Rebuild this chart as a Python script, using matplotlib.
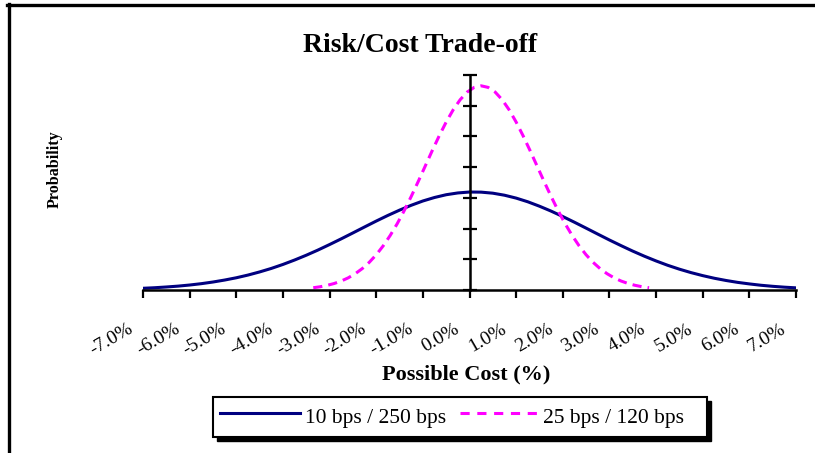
import numpy as np
import matplotlib.pyplot as plt
from matplotlib.lines import Line2D
from matplotlib.patches import Rectangle
import matplotlib.transforms as mtransforms

plt.rcParams['font.family'] = ['Liberation Serif', 'DejaVu Serif']

# possible cost (%) and probability density
cost_a = np.arange(-7.0, 7.01, 0.25)
prob_a = [0.0028, 0.0037, 0.0049, 0.0063, 0.0081, 0.0103, 0.0130, 0.0162,
          0.0199, 0.0243, 0.0294, 0.0351, 0.0416, 0.0488, 0.0566, 0.0650,
          0.0740, 0.0833, 0.0929, 0.1026, 0.1122, 0.1214, 0.1300, 0.1379,
          0.1449, 0.1506, 0.1551, 0.1580, 0.1595, 0.1593, 0.1576, 0.1543,
          0.1496, 0.1436, 0.1364, 0.1284, 0.1196, 0.1103, 0.1007, 0.0910,
          0.0814, 0.0722, 0.0633, 0.0550, 0.0473, 0.0402, 0.0339, 0.0283,
          0.0234, 0.0191, 0.0155, 0.0124, 0.0099, 0.0077, 0.0060, 0.0046,
          0.0035]

cost_b = np.arange(-3.35, 3.86, 0.15)
prob_b = [0.0037, 0.0053, 0.0076, 0.0106, 0.0146, 0.0198, 0.0265, 0.0348,
          0.0450, 0.0573, 0.0719, 0.0888, 0.1079, 0.1292, 0.1522, 0.1765,
          0.2016, 0.2267, 0.2509, 0.2734, 0.2933, 0.3098, 0.3222, 0.3298,
          0.3324, 0.3298, 0.3222, 0.3098, 0.2933, 0.2734, 0.2509, 0.2267,
          0.2016, 0.1765, 0.1522, 0.1292, 0.1079, 0.0888, 0.0719, 0.0573,
          0.0450, 0.0348, 0.0265, 0.0198, 0.0146, 0.0106, 0.0076, 0.0053,
          0.0037]

labels = ['10 bps / 250 bps', '25 bps / 120 bps']
xticks = np.arange(-7, 8, 1)
xticklabels = ['%.1f%%' % t for t in xticks]

W, H = 815, 453
fig = plt.figure(figsize=(W / 100, H / 100), dpi=100)
ax = fig.add_axes([143 / W, (H - 290) / H, (796 - 143) / W, (290 - 75) / H])

ax.plot(cost_a, prob_a, color='#000080', lw=2.2)
ax.plot(cost_b, prob_b, color='#FF00FF', lw=2.2, dashes=(3, 2))

ax.set_xlim(-7, 7)
ax.set_ylim(0, 0.35)
ax.spines['top'].set_visible(False)
ax.spines['right'].set_visible(False)
ax.spines['left'].set_position(('data', 0))
for s in ('left', 'bottom'):
    ax.spines[s].set_linewidth(1.8)
ax.set_yticks(np.arange(0, 0.351, 0.05))
ax.set_yticklabels([])
ax.tick_params(axis='y', direction='inout', length=10, width=1.6)
ax.set_xticks(xticks)
ax.set_xticklabels(xticklabels, rotation=30, ha='right', va='top', fontsize=14)
ax.tick_params(axis='x', direction='out', length=6, width=1.6, pad=16)
offset = mtransforms.ScaledTranslation(-7 / 100, 0, fig.dpi_scale_trans)
for lab in ax.get_xticklabels():
    lab.set_transform(lab.get_transform() + offset)

fig.text(420 / W, 1 - 45 / H, 'Risk/Cost Trade-off', ha='center', va='center',
         fontsize=20, fontweight='bold')
fig.text(466 / W, 1 - 374 / H, 'Possible Cost (%)', ha='center', va='center',
         fontsize=16, fontweight='bold')
fig.text(55 / W, 1 - 169 / H, 'Probability', ha='center', va='center',
         rotation=90, fontsize=11.5, fontweight='bold')

# chart frame (top and left edges only visible)
fig.add_artist(Line2D([7 / W, 1], [1 - 5 / H, 1 - 5 / H], color='black', lw=2.4))
fig.add_artist(Line2D([8.5 / W, 8.5 / W], [0, 1 - 4 / H], color='black', lw=2.4))

# legend box with shadow
bx0, bx1, by0, by1 = 213, 707, 397, 437
fig.add_artist(Rectangle(((bx0 + 4) / W, 1 - (by1 + 4) / H), (bx1 - bx0) / W,
                         (by1 - by0) / H, facecolor='black', edgecolor='black'))
fig.add_artist(Rectangle((bx0 / W, 1 - by1 / H), (bx1 - bx0) / W, (by1 - by0) / H,
                         facecolor='white', edgecolor='black', lw=1.5))
ly = 1 - 413 / H
fig.add_artist(Line2D([220 / W, 300 / W], [ly, ly], color='#000080', lw=2.2))
fig.add_artist(Line2D([460 / W, 542 / W], [ly, ly], color='#FF00FF', lw=2.2,
                      dashes=(3, 2.5)))
fig.text(305 / W, 1 - 419 / H, labels[0], ha='left', va='center', fontsize=15.5)
fig.text(543 / W, 1 - 419 / H, labels[1], ha='left', va='center', fontsize=15.5)

fig.savefig('out.png', dpi=100)
